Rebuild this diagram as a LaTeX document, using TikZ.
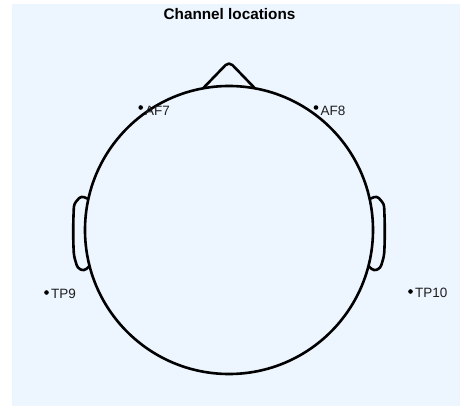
\documentclass[tikz,border=0pt]{standalone}
\usepackage{fontspec}
\setmainfont{Liberation Sans}
\definecolor{bgblue}{RGB}{237,245,255}
\definecolor{labelgray}{RGB}{30,30,30}
\tikzset{
  headline/.style={line width=2.6pt, black, line join=round},
  elecdot/.style={circle, fill=black, inner sep=0pt, minimum size=4.6pt},
  eleclabel/.style={anchor=base west, inner sep=0pt, text=labelgray, font=\fontsize{13.5}{13.5}\selectfont},
}
\begin{document}
\begin{tikzpicture}[x=1pt,y=-1pt]
\useasboundingbox (0,0) rectangle (460,406);
\fill[bgblue] (12,4) rectangle (460,406);
% title
\node[anchor=base, inner sep=0pt, font=\fontsize{15.3}{15.3}\selectfont\bfseries] (title) at (229.5,20) {Channel locations};
% head
\draw[headline] (229,230) circle[radius=144];
% nose
\draw[headline, rounded corners=5pt] (203,88.4) -- (229,61.5) -- (255,88.4);
% ears
\draw[headline, rounded corners=3pt] (88.6,199) -- (81,196) -- (74,204) .. controls (73,225) and (73,240) .. (74,256) -- (77.5,268) -- (84,271) -- (89.6,266);
\draw[headline, rounded corners=3pt] (369.4,199) -- (377,196) -- (384,204) .. controls (385,225) and (385,240) .. (384,256) -- (380.5,268) -- (374,271) -- (368.4,266);
% electrodes
\node[elecdot] (af7) at (140.7,107.5) {};
\node[elecdot] (af8) at (316,107.5) {};
\node[elecdot] (tp9) at (46.5,292.5) {};
\node[elecdot] (tp10) at (410.5,291.5) {};
\node[eleclabel] (af7l) at (145,115.3) {AF7};
\node[eleclabel] (af8l) at (320.5,115.3) {AF8};
\node[eleclabel] (tp9l) at (51,298.3) {TP9};
\node[eleclabel] (tp10l) at (415,297.5) {TP10};
\end{tikzpicture}
\end{document}
